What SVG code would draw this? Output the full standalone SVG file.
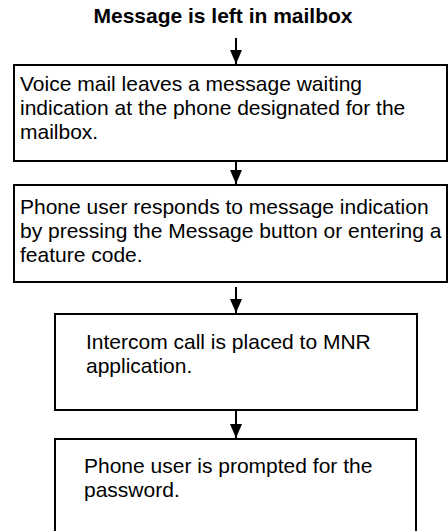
<svg xmlns="http://www.w3.org/2000/svg" width="448" height="531" viewBox="0 0 448 531">
<defs>
<marker id="ah" viewBox="0 0 14 12" refX="14" refY="6" markerWidth="14" markerHeight="12" markerUnits="userSpaceOnUse" orient="auto">
<path d="M0,0 L14,6 L0,12 Z" fill="#000"/>
</marker>
<style>
.box{fill:#fff;stroke:#000;stroke-width:2}
.t{font-family:"Liberation Sans",Arial,sans-serif;font-size:21px;fill:#000}
.title{font-family:"Liberation Sans",Arial,sans-serif;font-size:21px;font-weight:bold;fill:#000}
.c{stroke:#000;stroke-width:2;fill:none}
</style>
</defs>
<rect width="448" height="531" fill="#fff"/>
<g id="title"><text class="title" x="223" y="23" text-anchor="middle">Message is left in mailbox</text></g>
<g id="connectors">
<line class="c" x1="236" y1="38" x2="236" y2="64" marker-end="url(#ah)"/>
<line class="c" x1="236" y1="161" x2="236" y2="184" marker-end="url(#ah)"/>
<line class="c" x1="236" y1="287" x2="236" y2="313" marker-end="url(#ah)"/>
<line class="c" x1="236" y1="411" x2="236" y2="438" marker-end="url(#ah)"/>
</g>
<g id="box1">
<rect class="box" x="14" y="65" width="433" height="96"/>
<text class="t" x="20" y="91">Voice mail leaves a message waiting</text>
<text class="t" x="20" y="115">indication at the phone designated for the</text>
<text class="t" x="20" y="139">mailbox.</text>
</g>
<g id="box2">
<rect class="box" x="14" y="185" width="433" height="97"/>
<text class="t" x="20" y="214">Phone user responds to message indication</text>
<text class="t" x="20" y="238">by pressing the Message button or entering a</text>
<text class="t" x="20" y="262">feature code.</text>
</g>
<g id="box3">
<rect class="box" x="55" y="314" width="362" height="96"/>
<text class="t" x="86" y="349">Intercom call is placed to MNR</text>
<text class="t" x="86" y="373">application.</text>
</g>
<g id="box4">
<rect class="box" x="55" y="439" width="361" height="100"/>
<text class="t" x="84" y="473">Phone user is prompted for the</text>
<text class="t" x="84" y="497">password.</text>
</g>
</svg>
